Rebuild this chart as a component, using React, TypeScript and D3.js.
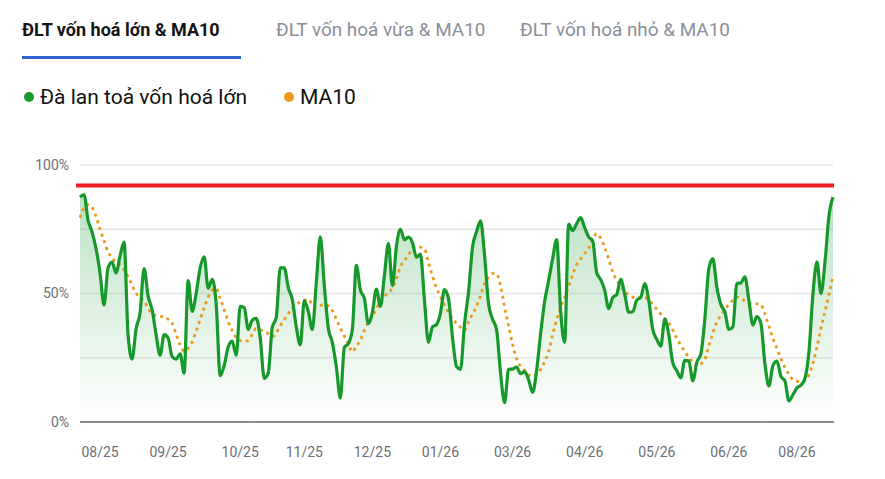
import React, { useEffect, useRef } from 'react';
import * as d3 from 'd3';

const tabLabels = ['ĐLT vốn hoá lớn & MA10', 'ĐLT vốn hoá vừa & MA10', 'ĐLT vốn hoá nhỏ & MA10'];
const legendLabels = ['Đà lan toả vốn hoá lớn', 'MA10'];

// breadth (%), one value per session
const breadth = [
  87.5, 88.5, 78.6, 74, 67.5, 58, 45.5, 60, 62.2, 58,
  64.6, 70, 34, 24.5, 36.3, 42.5, 59.7, 49, 43.7, 34,
  26, 34, 32.7, 25.5, 24.5, 26.5, 19, 55, 43, 50,
  60, 64.3, 52, 55.5, 46, 18, 22, 29.2, 31.5, 26,
  45, 44.5, 36, 39.6, 40.3, 32.7, 17, 19, 36.8, 40.7,
  60, 60, 52.3, 47.7, 37, 30, 47.2, 43, 36, 54.3,
  72, 53, 36.5, 31, 21.5, 9.3, 29, 30.5, 36, 61,
  51.4, 48, 38.3, 42.7, 51.7, 45, 57, 69.5, 53, 68.3,
  75, 70.9, 71.9, 69.8, 64.1, 65.3, 47.4, 31, 37, 37.9,
  42.4, 51.5, 48, 33, 21.6, 20.5, 38.3, 50.5, 68, 74,
  78.3, 65, 46, 40, 36, 19, 7.5, 20.5, 20.6, 21.4,
  18.8, 19.6, 16.5, 11.5, 20, 34.4, 46.8, 55, 63.5, 71,
  43, 31, 77, 74.5, 77.2, 79.5, 75.6, 72, 70.4, 58.1,
  55.4, 51.3, 44.1, 48.4, 49.6, 55.5, 49.7, 42.7, 42.9, 47.4,
  48.5, 53.9, 47.4, 36, 32.2, 29.5, 40, 34, 23, 20,
  17.2, 24, 23.8, 16, 23.2, 26.4, 40, 59.7, 63.6, 52.4,
  45.7, 42.9, 36, 37, 53.9, 54.1, 56.5, 47.4, 37.7, 41,
  38.3, 22.7, 14, 22, 23.7, 17.8, 16, 8.2, 10.6, 13.3,
  14.3, 17, 27.4, 50, 62.3, 50, 62.2, 80.3, 87.5,
];

const ma10 = [
  79.5, 83.3, 84.6, 83.5, 80, 75, 70.5, 66.2, 63.9, 62,
  61.3, 59.1, 56.5, 53.3, 50.1, 48.6, 47.1, 44.4, 42.1, 41.4,
  41, 41, 40, 38.5, 34.2, 30, 27.6, 28.6, 31.2, 35.4,
  39.9, 44.5, 48.6, 51.3, 52, 48, 43.7, 39.1, 35.6, 32.8,
  31.7, 31.4, 31.7, 34.1, 36.3, 35.9, 35.3, 34.4, 33.2, 34.7,
  37.4, 39.8, 42.1, 44.3, 45.8, 46.6, 47.3, 47.8, 45.5, 44.5,
  45.3, 45.8, 45.1, 43.3, 40, 36.5, 33.4, 30.3, 27.3, 29.5,
  31.8, 35.7, 38.8, 41.2, 44, 46.8, 48.7, 50.5, 52.1, 55.7,
  60.4, 62.8, 65, 67.4, 68.2, 68, 67.4, 62, 56.8, 52.2,
  48.7, 45.6, 42.7, 40.4, 38.4, 36.8, 35.7, 38.9, 42, 45,
  49.2, 53.9, 56.4, 57.8, 57.6, 53, 44.8, 37.5, 30.2, 24.6,
  21.6, 20.1, 18.4, 17.8, 18.6, 20.4, 23.4, 27.5, 33.9, 39.8,
  44.5, 48.5, 52.6, 57.3, 61.2, 63.5, 65.5, 67.5, 71.1, 73.3,
  71.5, 68, 63.4, 58.4, 55.2, 52.7, 50.9, 49.4, 48.6, 48.1,
  48.6, 48.5, 47.6, 45.8, 43.9, 42, 40.2, 38.6, 35.7, 32.6,
  29.9, 27.4, 25.2, 23.4, 21.8, 22.6, 24.4, 29.6, 34.5, 38.9,
  41.5, 43.8, 45.7, 47.4, 48.6, 47.9, 47.2, 46.3, 46, 46,
  45.6, 42, 37.2, 32.6, 28.6, 24.7, 21.2, 18.5, 16.5, 15.9,
  15.7, 16, 18.3, 23, 29.2, 36.5, 42.9, 49.6, 57,
];

const tickIndex = [5, 22, 40, 56, 73, 90, 108, 126, 144, 162, 179];
const tickLabels = ['08/25', '09/25', '10/25', '11/25', '12/25', '01/26', '03/26', '04/26', '05/26', '06/26', '08/26'];
const gridValues = [0, 25, 50, 75, 100];
const axisLabels = [0, 50, 100];
const threshold = 92;

const W = 885;
const H = 479;
const FONT = 'Roboto, "Noto Sans", sans-serif';

export default function App() {
  const ref = useRef<SVGSVGElement>(null);

  useEffect(() => {
    if (!ref.current) return;
    const svg = d3.select(ref.current);
    svg.selectAll('*').remove();

    const left = 80;
    const right = 833;
    const top = 165;
    const bottom = 422;

    const x = d3.scaleLinear().domain([0, breadth.length - 1]).range([left, right]);
    const y = d3.scaleLinear().domain([0, 100]).range([bottom, top]);

    // tabs
    const tabX = [22, 276, 520];
    svg.selectAll('.tab')
      .data(tabLabels)
      .enter()
      .append('text')
      .attr('x', (_, i) => tabX[i])
      .attr('y', 36)
      .attr('font-family', FONT)
      .attr('font-size', (_, i) => (i === 0 ? 18 : 18.9))
      .attr('font-weight', (_, i) => (i === 0 ? 700 : 400))
      .attr('fill', (_, i) => (i === 0 ? '#151515' : '#8a8f98'))
      .text((d) => d);
    svg.append('rect').attr('x', 22).attr('y', 56).attr('width', 219).attr('height', 3).attr('fill', '#2f62d0');

    // legend
    const legendColors = ['#1a9a2b', '#e99c1c'];
    const legendX = [29, 289];
    legendLabels.forEach((label, i) => {
      svg.append('circle').attr('cx', legendX[i]).attr('cy', 97).attr('r', 5).attr('fill', legendColors[i]);
      svg.append('text')
        .attr('x', legendX[i] + 11)
        .attr('y', 104)
        .attr('font-family', FONT)
        .attr('font-size', 21)
        .attr('fill', '#111')
        .text(label);
    });

    const defs = svg.append('defs');
    const grad = defs.append('linearGradient').attr('id', 'areaFill').attr('x1', 0).attr('x2', 0).attr('y1', 0).attr('y2', 1);
    grad.append('stop').attr('offset', '0%').attr('stop-color', '#1f9d3a').attr('stop-opacity', 0.3);
    grad.append('stop').attr('offset', '100%').attr('stop-color', '#1f9d3a').attr('stop-opacity', 0);

    const g = svg.append('g');

    // grid
    g.selectAll('.grid')
      .data(gridValues.filter((v) => v > 0))
      .enter()
      .append('line')
      .attr('x1', left)
      .attr('x2', right)
      .attr('y1', (d) => y(d))
      .attr('y2', (d) => y(d))
      .attr('stroke', '#e6e6e6')
      .attr('stroke-width', 1.5);

    g.selectAll('.ylab')
      .data(axisLabels)
      .enter()
      .append('text')
      .attr('x', 69)
      .attr('y', (d) => y(d))
      .attr('dy', '0.35em')
      .attr('text-anchor', 'end')
      .attr('font-family', FONT)
      .attr('font-size', 14)
      .attr('fill', '#6b6f76')
      .text((d) => `${d}%`);

    // area + lines
    const area = d3.area<number>()
      .x((_, i) => x(i))
      .y0(y(0))
      .y1((d) => y(d))
      .curve(d3.curveMonotoneX);
    g.append('path').datum(breadth).attr('d', area).attr('fill', 'url(#areaFill)');

    g.append('line')
      .attr('x1', left)
      .attr('x2', right + 1)
      .attr('y1', y(0))
      .attr('y2', y(0))
      .attr('stroke', '#8c8c8c')
      .attr('stroke-width', 1.8);

    const line = d3.line<number>().x((_, i) => x(i)).y((d) => y(d)).curve(d3.curveMonotoneX);

    g.append('line')
      .attr('x1', 76)
      .attr('x2', right + 1)
      .attr('y1', y(threshold))
      .attr('y2', y(threshold))
      .attr('stroke', '#ee1c25')
      .attr('stroke-width', 4);

    g.append('path')
      .datum(ma10)
      .attr('d', line)
      .attr('fill', 'none')
      .attr('stroke', '#e99c1c')
      .attr('stroke-width', 2.8)
      .attr('stroke-dasharray', '3,4');

    g.append('path')
      .datum(breadth)
      .attr('d', line)
      .attr('fill', 'none')
      .attr('stroke', '#16982a')
      .attr('stroke-width', 3.2)
      .attr('stroke-linejoin', 'round');

    // x labels
    g.selectAll('.xlab')
      .data(tickIndex)
      .enter()
      .append('text')
      .attr('x', (d) => x(d))
      .attr('y', 457)
      .attr('text-anchor', 'middle')
      .attr('font-family', FONT)
      .attr('font-size', 14)
      .attr('fill', '#6b6f76')
      .text((_, i) => tickLabels[i]);
  }, []);

  return (
    <svg
      ref={ref}
      width={W}
      height={H}
      style={{ position: 'absolute', left: 0, top: 0, background: '#fff' }}
    />
  );
}
